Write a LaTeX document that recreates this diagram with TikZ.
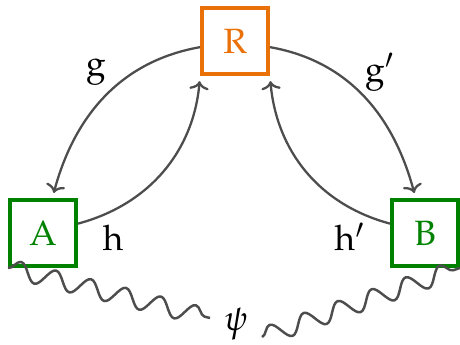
\documentclass[tikz,border=0pt]{standalone}
\usepackage[T1]{fontenc}
\usepackage{mathpazo}
\usetikzlibrary{arrows.meta,decorations.pathmorphing}
\definecolor{rcolor}{RGB}{234,112,8}
\definecolor{abcolor}{RGB}{0,130,0}
\definecolor{lncolor}{RGB}{77,77,77}
\tikzset{
  objbox/.style={draw, line width=1.1pt, minimum size=0.66cm, inner sep=0pt},
  mapln/.style={-{To[length=2.4pt,width=5.5pt]}, line width=0.65pt, lncolor, shorten >=1.5pt},
  wavyln/.style={decorate, decoration={snake, amplitude=0.09cm, segment length=0.36cm},
    line width=0.7pt, lncolor, line join=round},
}

\begin{document}
\begin{tikzpicture}
  \useasboundingbox (0,0) rectangle (4.6,3.44);
  % Objects
  \node[objbox, rcolor] (R) at (2.35,3.03) {R};
  \node[objbox, abcolor] (A) at (0.43,1.11) {A};
  \node[objbox, abcolor] (B) at (4.25,1.11) {B};
  % Maps out of R and back
  \draw[mapln] (R) to[out=190,in=75] (A);
  \draw[mapln] (A) to[out=15,in=-95] (R.south west);
  \draw[mapln] (R) to[out=-10,in=105] (B);
  \draw[mapln] (B) to[out=165,in=-85] (R.south east);
  \node (g) at (0.96,2.72) {$\mathrm{g}$};
  \node (gp) at (3.80,2.72) {$\mathrm{g}'$};
  \node (h) at (1.13,1.06) {$\mathrm{h}$};
  \node (hp) at (3.50,1.07) {$\mathrm{h}'$};
  % Wavy link
  \node (psi) at (2.36,0.20) {$\psi$};
  \coordinate (wl) at (2.10,0.26);
  \coordinate (wr) at (2.62,0.07);
  \draw[wavyln] (A.south west) -- (wl);
  \draw[wavyln] (wr) -- (B.south east);
\end{tikzpicture}
\end{document}
